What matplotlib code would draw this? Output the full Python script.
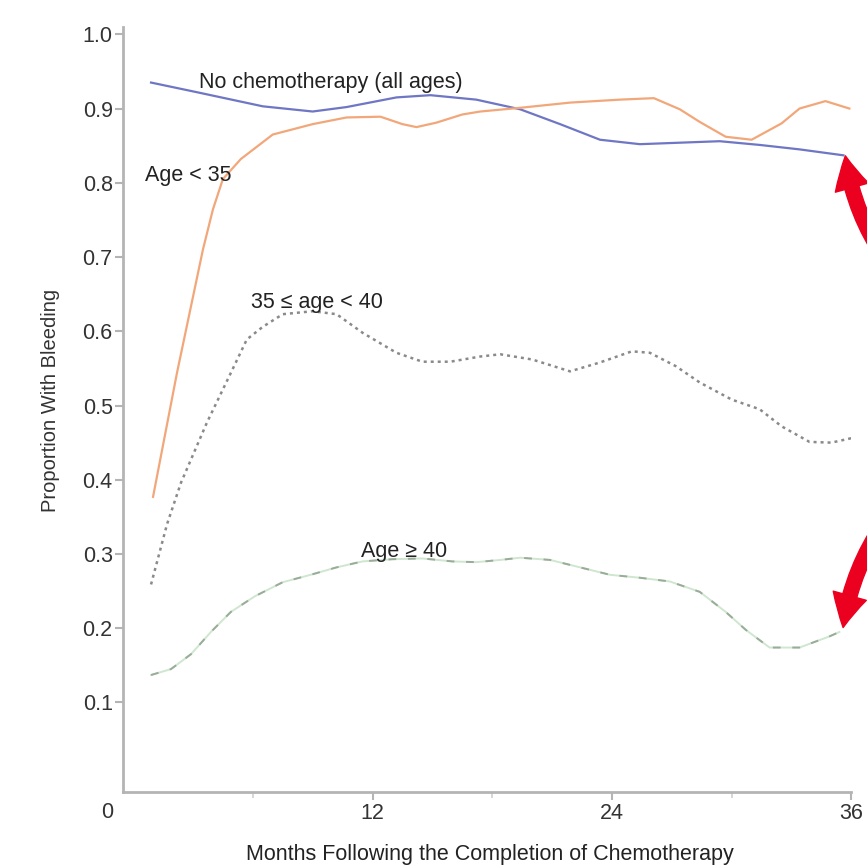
import matplotlib
matplotlib.use("Agg")
import matplotlib.pyplot as plt
from matplotlib.patches import FancyArrowPatch

plt.rcParams['font.family'] = ['Liberation Sans', 'DejaVu Sans']

# months after chemotherapy and the proportion with bleeding for each group
months_none = [0.9, 3.2, 6.5, 9.0, 10.7, 13.2, 14.9, 17.2, 19.4, 21.4, 23.4, 25.4, 27.4,
               29.4, 31.4, 33.4, 35.6]
prop_none = [0.935, 0.922, 0.903, 0.896, 0.902, 0.915, 0.918, 0.912, 0.899, 0.879, 0.858, 0.852, 0.854,
             0.856, 0.851, 0.845, 0.837]

months_lt35 = [1.0, 2.2, 3.5, 4.0, 4.5, 5.4, 7.0, 9.0, 10.7, 12.4, 13.5, 14.2, 15.2, 16.5, 17.4,
               19.4, 21.9, 24.4, 26.1, 27.4, 28.4, 29.7, 31.0, 32.5, 33.4, 34.7, 35.9]
prop_lt35 = [0.377, 0.544, 0.710, 0.764, 0.805, 0.832, 0.865, 0.879, 0.888, 0.889, 0.879, 0.875, 0.881,
             0.892, 0.896, 0.901, 0.908, 0.912, 0.914, 0.899, 0.882, 0.862, 0.858, 0.880, 0.900, 0.910, 0.900]

months_35_40 = [0.9, 1.7, 2.4, 3.7, 4.9, 5.7, 6.5, 7.5, 9.0, 10.2, 11.5, 13.2, 14.5, 15.9, 17.4,
                18.4, 20.0, 21.9, 23.4, 25.0, 25.9, 27.2, 28.4, 30.0, 31.4, 32.5, 33.9, 35.0, 36.0]
prop_35_40 = [0.259, 0.340, 0.396, 0.477, 0.544, 0.589, 0.606, 0.623, 0.627, 0.623, 0.598, 0.571, 0.559,
              0.559, 0.566, 0.569, 0.562, 0.546, 0.558, 0.573, 0.571, 0.553, 0.531, 0.508, 0.495, 0.472,
              0.451, 0.450, 0.456]

months_ge40 = [0.9, 1.9, 2.9, 3.9, 4.9, 6.1, 7.5, 8.9, 10.2, 11.5, 13.0, 14.5, 16.0, 17.2, 18.4,
               19.4, 20.9, 22.4, 23.9, 25.4, 26.9, 28.4, 29.7, 30.7, 31.9, 33.4, 34.9, 35.4]
prop_ge40 = [0.137, 0.145, 0.165, 0.195, 0.222, 0.243, 0.262, 0.272, 0.282, 0.290, 0.293, 0.294, 0.290,
             0.289, 0.292, 0.295, 0.292, 0.282, 0.272, 0.268, 0.263, 0.249, 0.222, 0.198, 0.174, 0.174,
             0.189, 0.195]

y_ticks = [0.1, 0.2, 0.3, 0.4, 0.5, 0.6, 0.7, 0.8, 0.9, 1.0]
x_ticks = [12, 24, 36]

fig = plt.figure(figsize=(8.67, 8.67), dpi=100)
ax = fig.add_axes([0.142, 0.087, 0.84, 0.882])

ax.plot(months_none, prop_none, color='#6f76c4', lw=1.6)
ax.plot(months_lt35, prop_lt35, color='#f2a77a', lw=1.6)
ax.plot(months_35_40, prop_35_40, color='#8a8a8a', lw=1.8, linestyle=(0, (1.2, 1.6)))
ax.plot(months_ge40, prop_ge40, color='#cfe6cf', lw=1.4)
ax.plot(months_ge40, prop_ge40, color='#9aab9a', lw=1.4, linestyle=(0, (4, 6)))

lab = dict(fontsize=15.5, color='#222222')
ax.text(9.9, 0.935, 'No chemotherapy (all ages)', ha='center', va='center', **lab)
ax.text(0.6, 0.810, 'Age < 35', ha='left', va='center', **lab)
ax.text(9.2, 0.639, '35 \u2264 age < 40', ha='center', va='center', **lab)
ax.text(13.6, 0.303, 'Age \u2265 40', ha='center', va='center', **lab)

ax.set_xlim(-0.5, 36)
ax.set_ylim(-0.02, 1.01)
ax.set_yticks(y_ticks)
ax.set_yticklabels(['%.1f' % v for v in y_ticks])
ax.set_xticks(x_ticks)
ax.set_xticks([6, 18, 30], minor=True)
ax.text(-1.3, -0.048, '0', ha='center', va='center', fontsize=15.5, color='#333333')

for s in ['top', 'right']:
    ax.spines[s].set_visible(False)
for s in ['left', 'bottom']:
    ax.spines[s].set_color('#b4b4b4')
    ax.spines[s].set_linewidth(2)
ax.tick_params(axis='both', which='major', colors='#b4b4b4', labelcolor='#333333',
               labelsize=15.5, length=5.5, width=1.5)
ax.tick_params(axis='y', pad=2)
ax.tick_params(axis='x', pad=3)
ax.tick_params(axis='x', which='minor', colors='#d0d0d0', length=4, width=1.2)

ax.set_xlabel('Months Following the Completion of Chemotherapy', fontsize=15.5, color='#222222')
ax.set_ylabel('Proportion With Bleeding', fontsize=14.5, color='#333333')
ax.xaxis.label.set_va('center')
ax.yaxis.label.set_va('center')
ax.xaxis.set_label_coords(0.504, -0.082)
ax.yaxis.set_label_coords(-0.100, 0.512)

# red arrows pointing at the curve ends on the right edge
arrow_top = FancyArrowPatch((1.04, 0.677), (0.9746, 0.8235), transform=fig.transFigure,
                            arrowstyle='simple,head_width=1.9,head_length=1.8,tail_width=0.8',
                            connectionstyle='arc3,rad=-0.15', color='#ec0020', mutation_scale=13)
arrow_bot = FancyArrowPatch((1.04, 0.423), (0.972, 0.273), transform=fig.transFigure,
                            arrowstyle='simple,head_width=1.9,head_length=1.8,tail_width=0.8',
                            connectionstyle='arc3,rad=0.15', color='#ec0020', mutation_scale=13)
fig.patches.append(arrow_top)
fig.patches.append(arrow_bot)

fig.savefig('out.png', dpi=100)
